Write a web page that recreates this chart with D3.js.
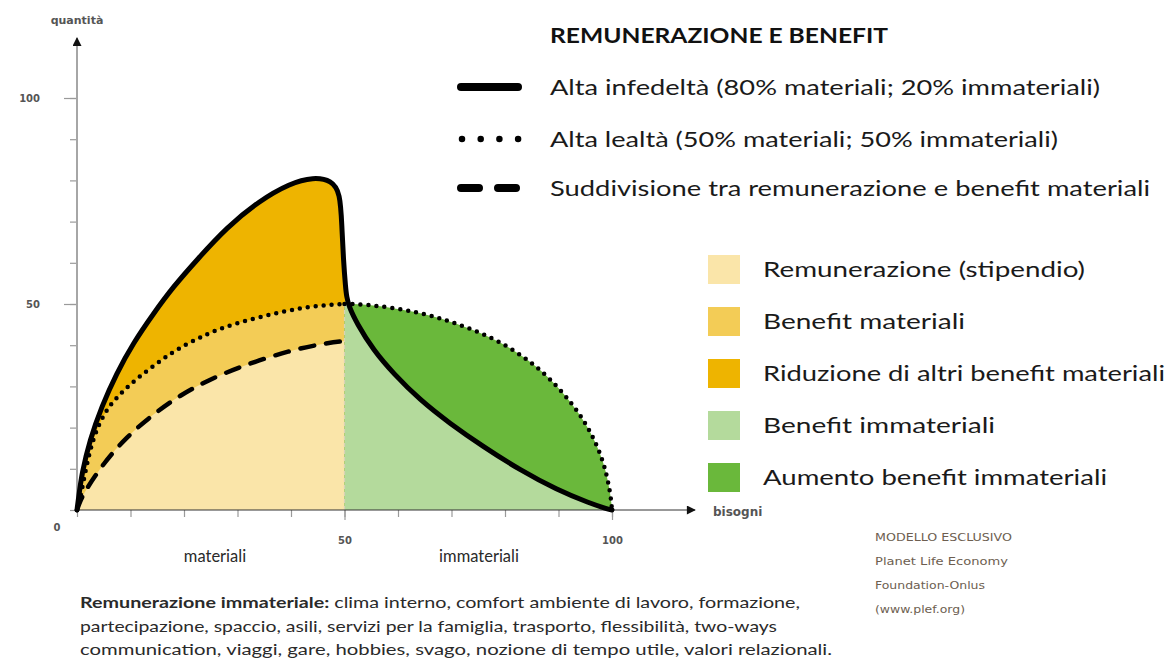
<!DOCTYPE html>
<html>
<head>
<meta charset="utf-8">
<script src="https://cdn.jsdelivr.net/npm/d3@7"></script>
<style>
  body { margin: 0; background: #fff; }
  svg { display: block; font-family: Lato, "Open Sans", sans-serif; }
</style>
</head>
<body>
<svg></svg>
<script>
// data (x = bisogni, y = quantità)
var minorTicks = [0, 10, 20, 30, 40, 50, 60, 70, 80, 90, 100];
var majorTicks = [50, 100];
var solidRise = [[0,0],[0.3,3],[0.9,8.9],[2.4,17],[4.6,25.1],[7.4,33.2],[10.5,40.5],[14.3,47.7],[18,54.2],[22.4,60.7],[28,68.6],[34,75],[39.8,79.3],[44.2,80.8],[47.6,80],[49.2,77],[49.5,69],[49.8,60.7],[50.2,54],[50.4,51.8]];
var solidFall = [[50.4,51.8],[50.8,49.5],[52.3,45.3],[55.4,38.8],[59.1,33.2],[64.1,26.7],[69.7,21],[75.9,15.4],[82.8,9.7],[89.7,4.9],[95.9,1.6],[99,0.3],[100,0]];
var dottedLeft = [[0,0],[0.6,2.4],[2.4,15.4],[4.9,23.5],[8,28.2],[11.1,31.8],[14.9,35.6],[18.6,39],[23.6,42.3],[28.5,45],[40,48.8],[47,49.8],[50,50]];
var dottedRight = [[50,50],[52.9,50],[58.5,49.2],[64.1,47.9],[69.1,46.1],[74,43.8],[79,40.9],[84,36.8],[88.4,32],[92.8,25.5],[95.9,19.4],[98.4,12.1],[99.6,4.9],[99.9,1.5],[100,0]];
var dashedLine = [[0,0],[0.4,1.5],[1.2,4],[4.9,11.3],[9.3,17.8],[14.3,23.3],[19.3,27.9],[24.5,31.5],[30.5,34.8],[39.8,38.8],[47,40.6],[50,41]];

var lineNames = ["Alta infedeltà (80% materiali; 20% immateriali)", "Alta lealtà (50% materiali; 50% immateriali)", "Suddivisione tra remunerazione e benefit materiali"];
var lineWidths = [550, 508, 600];
var areaNames = ["Remunerazione (stipendio)", "Benefit materiali", "Riduzione di altri benefit materiali", "Benefit immateriali", "Aumento benefit immateriali"];
var areaColors = ["#fae5a9", "#f3cc56", "#eeb400", "#b4da9c", "#6ab83b"];
var areaWidths = [322, 202, 402, 232, 344];
var noteLines = ["MODELLO  ESCLUSIVO", "Planet Life Economy", "Foundation-Onlus", "(www.plef.org)"];
var noteWidths = [137, 133, 110, 90];
var footLines = [
  ["Remunerazione immateriale:", " clima interno, comfort ambiente di lavoro, formazione,"],
  ["", "partecipazione, spaccio,  asili, servizi per la famiglia, trasporto, flessibilità, two-ways"],
  ["", "communication,  viaggi, gare, hobbies, svago, nozione di tempo utile, valori relazionali."]
];
var footWidths = [720, 697, 752];

var svg = d3.select("svg").attr("width", 1169).attr("height", 663);

var x = d3.scaleLinear().domain([0, 100]).range([77, 612]),
    y = d3.scaleLinear().domain([0, 100]).range([510, 98]);

var curve = d3.line()
    .x(function(d) { return x(d[0]); })
    .y(function(d) { return y(d[1]); })
    .curve(d3.curveBasis);

function closed(points, tail) {
    return curve(points) + tail.map(function(p) { return "L" + x(p[0]) + "," + y(p[1]); }).join("") + "Z";
}

// arrow head
svg.append("defs").append("marker")
    .attr("id", "arrow")
    .attr("viewBox", "0 0 10 10")
    .attr("refX", 9).attr("refY", 5)
    .attr("markerWidth", 13).attr("markerHeight", 9)
    .attr("markerUnits", "userSpaceOnUse")
    .attr("orient", "auto")
    .append("path").attr("d", "M0,0L10,5L0,10Z").attr("fill", "#111");

// filled areas
var g = svg.append("g");
g.append("path").attr("d", closed(solidRise, [[50, 0]])).attr("fill", areaColors[2]);
g.append("path").attr("d", closed(dottedLeft, [[50, 0]])).attr("fill", areaColors[1]);
g.append("path").attr("d", closed(dashedLine, [[50, 0]])).attr("fill", areaColors[0]);
g.append("path").attr("d", closed(dottedRight, [[50, 0]])).attr("fill", areaColors[4]);
g.append("path").attr("d", closed(solidFall, [[50, 0], [50, 50]])).attr("fill", areaColors[3]);

// faint divider at 50
g.append("line")
    .attr("x1", x(50)).attr("x2", x(50))
    .attr("y1", y(0)).attr("y2", y(50))
    .attr("stroke", "#d9d2b8").attr("stroke-width", 1.2)
    .attr("stroke-dasharray", "4 3");

// axes
svg.append("g").attr("transform", "translate(" + x(0) + ",0)")
    .call(d3.axisLeft(y).tickValues(minorTicks).tickSize(7).tickFormat(""));
svg.append("g").attr("transform", "translate(" + x(0) + ",0)")
    .call(d3.axisLeft(y).tickValues(majorTicks).tickSize(13).tickPadding(24).tickFormat(d3.format("d")));
svg.append("g").attr("transform", "translate(0," + y(0) + ")")
    .call(d3.axisBottom(x).tickValues(minorTicks).tickSize(7).tickFormat(""));
svg.append("g").attr("transform", "translate(0," + y(0) + ")")
    .call(d3.axisBottom(x).tickValues(majorTicks).tickSize(10).tickPadding(17).tickFormat(d3.format("d")));

svg.selectAll(".domain").remove();
svg.selectAll(".tick line").attr("stroke", "#9a9a9a").attr("stroke-width", 1.2);
svg.selectAll(".tick text")
    .style("font-family", "'DejaVu Sans', sans-serif")
    .style("font-size", "10px")
    .style("font-weight", "bold")
    .attr("fill", "#555");

svg.append("line")
    .attr("x1", x(0)).attr("x2", x(0))
    .attr("y1", y(0)).attr("y2", 38)
    .attr("stroke", "#a6a6a6").attr("stroke-width", 2)
    .attr("marker-end", "url(#arrow)");
svg.append("line")
    .attr("x1", x(0)).attr("x2", 695)
    .attr("y1", y(0)).attr("y2", y(0))
    .attr("stroke", "#333").attr("stroke-width", 1)
    .attr("marker-end", "url(#arrow)");

// curves on top
svg.append("path").attr("d", curve(dashedLine))
    .attr("fill", "none").attr("stroke", "#000").attr("stroke-width", 4.5)
    .attr("stroke-linecap", "round").attr("stroke-dasharray", "14 12");
svg.append("path").attr("d", curve(dottedLeft))
    .attr("fill", "none").attr("stroke", "#000").attr("stroke-width", 4.5)
    .attr("stroke-linecap", "round").attr("stroke-dasharray", "0 8");
svg.append("path").attr("d", curve(dottedRight))
    .attr("fill", "none").attr("stroke", "#000").attr("stroke-width", 4.5)
    .attr("stroke-linecap", "round").attr("stroke-dasharray", "0 8");
svg.append("path").attr("d", curve(solidRise.concat(solidFall.slice(1))))
    .attr("fill", "none").attr("stroke", "#000").attr("stroke-width", 5)
    .attr("stroke-linejoin", "round").attr("stroke-linecap", "round");

// axis titles
svg.append("text").attr("x", 77).attr("y", 24).attr("text-anchor", "middle")
    .style("font-family", "'DejaVu Sans', sans-serif").style("font-size", "11px").style("font-weight", "bold")
    .attr("fill", "#555").text("quantità");
svg.append("text").attr("x", 57).attr("y", 531).attr("text-anchor", "middle")
    .style("font-family", "'DejaVu Sans', sans-serif").style("font-size", "10px").style("font-weight", "bold")
    .attr("fill", "#555").text("0");
svg.append("text").attr("x", 713).attr("y", 516)
    .style("font-family", "'DejaVu Sans', sans-serif").style("font-size", "12px").style("font-weight", "bold")
    .attr("fill", "#555").text("bisogni");
svg.append("text").attr("x", 215).attr("y", 562).attr("text-anchor", "middle")
    .style("font-size", "16.5px").attr("fill", "#2a2a2a").text("materiali");
svg.append("text").attr("x", 479).attr("y", 562).attr("text-anchor", "middle")
    .style("font-size", "16.5px").attr("fill", "#2a2a2a").text("immateriali");

// line legend
svg.append("text").attr("x", 550).attr("y", 43)
    .attr("textLength", 338).attr("lengthAdjust", "spacingAndGlyphs")
    .style("font-size", "21px").style("font-weight", "bold").attr("fill", "#111")
    .text("REMUNERAZIONE E BENEFIT");

var legY = [87, 139, 188];
var leg = svg.append("g");
leg.append("line").attr("x1", 461).attr("x2", 518).attr("y1", legY[0]).attr("y2", legY[0])
    .attr("stroke", "#000").attr("stroke-width", 8).attr("stroke-linecap", "round");
leg.append("line").attr("x1", 462).attr("x2", 519).attr("y1", legY[1]).attr("y2", legY[1])
    .attr("stroke", "#000").attr("stroke-width", 6.5).attr("stroke-linecap", "round")
    .attr("stroke-dasharray", "0 18.7");
leg.append("line").attr("x1", 461).attr("x2", 518).attr("y1", legY[2]).attr("y2", legY[2])
    .attr("stroke", "#000").attr("stroke-width", 8).attr("stroke-linecap", "round")
    .attr("stroke-dasharray", "18 19");
leg.selectAll("text.lname").data(lineNames).enter().append("text")
    .attr("class", "lname")
    .attr("x", 550)
    .attr("y", function(d, i) { return legY[i] + 8; })
    .attr("textLength", function(d, i) { return lineWidths[i]; })
    .attr("lengthAdjust", "spacingAndGlyphs")
    .style("font-size", "22px").attr("fill", "#1a1a1a")
    .text(function(d) { return d; });

// colour legend
var boxY = [255, 307, 359, 411, 463];
var items = svg.append("g").selectAll("g").data(areaNames).enter().append("g");
items.append("rect")
    .attr("x", 708).attr("y", function(d, i) { return boxY[i]; })
    .attr("width", 32).attr("height", 29)
    .attr("fill", function(d, i) { return areaColors[i]; });
items.append("text")
    .attr("x", 763).attr("y", function(d, i) { return boxY[i] + 22; })
    .attr("textLength", function(d, i) { return areaWidths[i]; })
    .attr("lengthAdjust", "spacingAndGlyphs")
    .style("font-size", "22px").attr("fill", "#1a1a1a")
    .text(function(d) { return d; });

// credit note
svg.append("g").selectAll("text").data(noteLines).enter().append("text")
    .attr("x", 875).attr("y", function(d, i) { return 541 + i * 24; })
    .attr("textLength", function(d, i) { return noteWidths[i]; })
    .attr("lengthAdjust", "spacingAndGlyphs")
    .style("font-family", "'DejaVu Sans', sans-serif").style("font-size", "10.5px")
    .attr("fill", "#6d5e50")
    .text(function(d) { return d; });

// footnote
var foot = svg.append("g").selectAll("text").data(footLines).enter().append("text")
    .attr("x", 80).attr("y", function(d, i) { return 608 + i * 23.5; })
    .attr("textLength", function(d, i) { return footWidths[i]; })
    .attr("lengthAdjust", "spacingAndGlyphs")
    .style("font-size", "15px").attr("fill", "#2a2a2a");
foot.append("tspan").style("font-weight", "bold").text(function(d) { return d[0]; });
foot.append("tspan").text(function(d) { return d[1]; });
</script>
</body>
</html>
